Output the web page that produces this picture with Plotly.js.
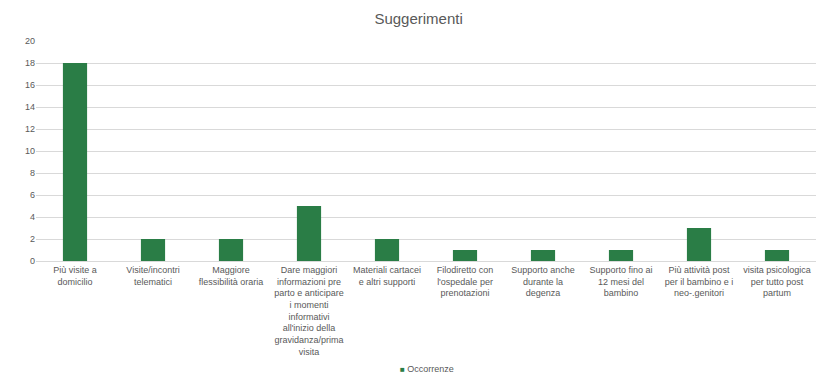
<!DOCTYPE html>
<html><head><meta charset="utf-8">
<script src="https://cdn.plot.ly/plotly-3.0.1.min.js"></script>
<style>body{margin:0;background:#fff}#c{width:816px;height:375px}</style>
</head><body><div id="c"></div>
<script>
const categories = [
  "Più visite a<br>domicilio",
  "Visite/incontri<br>telematici",
  "Maggiore<br>flessibilità oraria",
  "Dare maggiori<br>informazioni pre<br>parto e anticipare<br>i momenti<br>informativi<br>all'inizio della<br>gravidanza/prima<br>visita",
  "Materiali cartacei<br>e altri supporti",
  "Filodiretto con<br>l'ospedale per<br>prenotazioni",
  "Supporto anche<br>durante la<br>degenza",
  "Supporto fino ai<br>12 mesi del<br>bambino",
  "Più attività post<br>per il bambino e i<br>neo-.genitori",
  "visita psicologica<br>per tutto post<br>partum"
];
const occorrenze = [18, 2, 2, 5, 2, 1, 1, 1, 3, 1];
const yTicks = [0, 2, 4, 6, 8, 10, 12, 14, 16, 18, 20];
const seriesName = 'Occorrenze';

const txt = '#595959';
const green = '#2a7d46';
Plotly.newPlot('c', [{
  type: 'bar', x: categories, y: occorrenze, name: seriesName,
  marker: {color: green}, showlegend: false
}], {
  width: 816, height: 375,
  margin: {l: 36, r: 0, t: 41, b: 114},
  title: {text: 'Suggerimenti', x: 0.513, xanchor: 'center', y: 0.95, yanchor: 'middle',
          font: {family: 'Liberation Sans, Arial, sans-serif', size: 15, color: txt}},
  font: {family: 'Liberation Sans, Arial, sans-serif', size: 9, color: txt},
  bargap: 0.69,
  showlegend: false,
  annotations: [{
    xref: 'paper', yref: 'paper', x: 0.501, y: -0.49, xanchor: 'center', yanchor: 'middle',
    showarrow: false,
    text: '<span style="color:' + green + ';font-size:8px">■</span> ' + seriesName,
    font: {size: 9, color: txt}
  }],
  xaxis: {tickfont: {size: 9, color: txt}, showline: true, linecolor: '#d9d9d9',
          ticks: '', tickangle: 0, automargin: false},
  yaxis: {range: [0, 20], tickvals: yTicks, ticktext: yTicks.map(String), gridcolor: '#d9d9d9',
          zeroline: false, tickfont: {size: 9, color: txt}, ticks: '', ticklen: 0, automargin: false},
  plot_bgcolor: '#fff', paper_bgcolor: '#fff'
}, {displayModeBar: false});
</script></body></html>
